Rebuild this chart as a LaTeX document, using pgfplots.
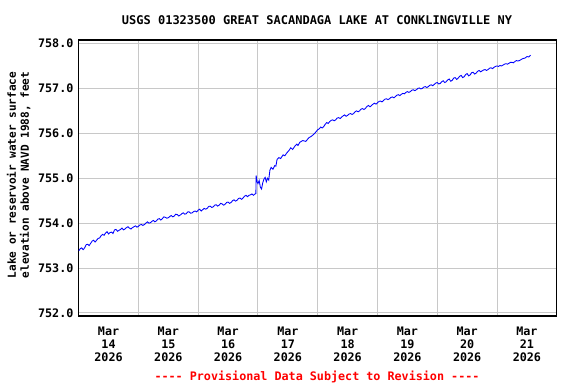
\documentclass[border=0pt]{standalone}
\usepackage{pgfplots}
\pgfplotsset{compat=1.18}
\usepackage{fontspec}
\setmonofont{DejaVu Sans Mono}
\definecolor{gridgray}{RGB}{200,200,200}
\begin{document}
\begin{tikzpicture}
\useasboundingbox (0,0) rectangle (432pt,288pt);
\begin{axis}[
  at={(59pt,51pt)}, anchor=south west,
  scale only axis, width=358.6pt, height=207pt,
  xmin=0, xmax=8, ymin=751.933, ymax=758.078,
  xtick={0.5,1.5,2.5,3.5,4.5,5.5,6.5,7.5},
  xticklabels={{Mar\\14\\2026},{Mar\\15\\2026},{Mar\\16\\2026},{Mar\\17\\2026},{Mar\\18\\2026},{Mar\\19\\2026},{Mar\\20\\2026},{Mar\\21\\2026}},
  minor xtick={1,2,3,4,5,6,7},
  ytick={752,753,754,755,756,757,758},
  xmajorgrids=false, xminorgrids=true, ymajorgrids=true,
  major grid style={draw=gridgray, line width=0.75pt},
  minor grid style={draw=gridgray, line width=0.75pt},
  major tick length=0pt, minor tick length=0pt,
  axis line style={black, line width=0.9pt},
  xticklabel style={align=center, inner sep=0pt, yshift=-8pt,
    font=\ttfamily\bfseries\fontsize{8.8}{9.75}\selectfont},
  yticklabel style={inner sep=0pt, xshift=-3.75pt,
    font=\ttfamily\bfseries\fontsize{8.8}{10}\selectfont,
    /pgf/number format/.cd, fixed, fixed zerofill, precision=1, 1000 sep={}, assume math mode=true},
]
\addplot[blue, line width=0.65pt] coordinates {
(0.00,753.38) (0.025,753.43) (0.05,753.45) (0.075,753.41) (0.10,753.45) (0.125,753.52) (0.15,753.53) (0.175,753.50) (0.20,753.55) (0.225,753.60) (0.25,753.62) (0.275,753.58) (0.30,753.62) (0.325,753.66) (0.35,753.67) (0.375,753.72) (0.40,753.75) (0.425,753.73) (0.45,753.78) (0.475,753.81) (0.50,753.76) (0.525,753.79) (0.55,753.80) (0.575,753.77) (0.60,753.85) (0.625,753.86) (0.65,753.82) (0.675,753.84) (0.70,753.86) (0.725,753.89) (0.75,753.85) (0.775,753.87) (0.80,753.90) (0.825,753.92) (0.85,753.89) (0.875,753.87) (0.90,753.90) (0.925,753.92) (0.95,753.94) (0.975,753.91) (1.00,753.93) (1.025,753.96) (1.05,753.97) (1.075,753.95) (1.10,753.97) (1.125,754.00) (1.15,754.03) (1.175,754.00) (1.20,754.01) (1.225,754.04) (1.25,754.06) (1.275,754.03) (1.30,754.05) (1.325,754.09) (1.35,754.10) (1.375,754.07) (1.40,754.10) (1.425,754.14) (1.45,754.13) (1.475,754.11) (1.50,754.12) (1.525,754.15) (1.55,754.17) (1.575,754.14) (1.60,754.16) (1.625,754.20) (1.65,754.19) (1.675,754.16) (1.70,754.18) (1.725,754.21) (1.75,754.23) (1.775,754.20) (1.80,754.21) (1.825,754.25) (1.85,754.25) (1.875,754.22) (1.90,754.23) (1.925,754.26) (1.95,754.27) (1.975,754.25) (2.00,754.29) (2.025,754.31) (2.05,754.27) (2.075,754.30) (2.10,754.33) (2.125,754.31) (2.15,754.33) (2.175,754.37) (2.20,754.38) (2.225,754.35) (2.25,754.36) (2.275,754.40) (2.30,754.41) (2.325,754.38) (2.35,754.40) (2.375,754.44) (2.40,754.43) (2.425,754.40) (2.45,754.42) (2.475,754.46) (2.50,754.47) (2.525,754.44) (2.55,754.46) (2.575,754.50) (2.60,754.52) (2.625,754.49) (2.65,754.51) (2.675,754.55) (2.70,754.56) (2.725,754.53) (2.75,754.56) (2.775,754.60) (2.80,754.62) (2.825,754.59) (2.85,754.62) (2.875,754.63) (2.90,754.65) (2.925,754.62) (2.95,754.65)
(2.965,754.66) (2.97,755.06) (2.985,754.92) (3.00,754.88) (3.02,754.95) (3.04,754.80)
(3.06,754.76) (3.08,754.90) (3.10,754.98) (3.12,755.02) (3.14,754.92) (3.16,755.00)
(3.18,754.96) (3.20,755.18) (3.22,755.24) (3.25,755.20) (3.28,755.28) (3.30,755.27)
(3.32,755.42) (3.35,755.46) (3.38,755.44) (3.42,755.52) (3.45,755.50) (3.48,755.56)
(3.52,755.62) (3.55,755.68) (3.58,755.64) (3.62,755.72) (3.65,755.76) (3.67,755.73)
(3.70,755.80) (3.75,755.84) (3.80,755.82) (3.85,755.90) (3.90,755.94) (3.95,756.00)
(4.00,756.08) (4.025,756.10) (4.05,756.14) (4.075,756.12) (4.10,756.15) (4.125,756.20) (4.15,756.24) (4.175,756.22) (4.20,756.26) (4.225,756.29) (4.25,756.30) (4.275,756.28) (4.30,756.30) (4.325,756.34) (4.35,756.35) (4.375,756.33) (4.40,756.36) (4.425,756.39) (4.45,756.41) (4.475,756.38) (4.50,756.40) (4.525,756.43) (4.55,756.44) (4.575,756.42) (4.60,756.44) (4.625,756.48) (4.65,756.50) (4.675,756.48) (4.70,756.50) (4.725,756.54) (4.75,756.55) (4.775,756.53) (4.80,756.56) (4.825,756.60) (4.85,756.62) (4.875,756.59) (4.90,756.62) (4.925,756.65) (4.95,756.67) (4.975,756.65) (5.00,756.68) (5.025,756.71) (5.05,756.72) (5.075,756.70) (5.10,756.73) (5.125,756.76) (5.15,756.77) (5.175,756.75) (5.20,756.77) (5.225,756.80) (5.25,756.81) (5.275,756.79) (5.30,756.82) (5.325,756.85) (5.35,756.86) (5.375,756.84) (5.40,756.87) (5.425,756.89) (5.45,756.88) (5.475,756.91) (5.50,756.93) (5.525,756.91) (5.55,756.93) (5.575,756.96) (5.60,756.97) (5.625,756.95) (5.65,756.97) (5.675,757.00) (5.70,757.01) (5.725,756.99) (5.75,757.00) (5.775,757.03) (5.80,757.04) (5.825,757.02) (5.85,757.04) (5.875,757.07) (5.90,757.08) (5.925,757.06) (5.95,757.09) (5.975,757.12) (6.00,757.13) (6.025,757.10) (6.05,757.11) (6.075,757.15) (6.10,757.17) (6.125,757.13) (6.15,757.15) (6.175,757.19) (6.20,757.21) (6.225,757.16) (6.25,757.18) (6.275,757.23) (6.30,757.24) (6.325,757.20) (6.35,757.23) (6.375,757.27) (6.40,757.29) (6.425,757.24) (6.45,757.26) (6.475,757.31) (6.50,757.33) (6.525,757.28) (6.55,757.30) (6.575,757.35) (6.60,757.36) (6.625,757.32) (6.65,757.34) (6.675,757.38) (6.70,757.40) (6.725,757.37) (6.75,757.39) (6.775,757.41) (6.80,757.42) (6.825,757.40) (6.85,757.42) (6.875,757.45) (6.90,757.46) (6.925,757.44) (6.95,757.47) (6.975,757.49) (7.00,757.50) (7.025,757.49) (7.05,757.51) (7.075,757.50) (7.10,757.52) (7.125,757.54) (7.15,757.55) (7.175,757.54) (7.20,757.56) (7.225,757.58) (7.25,757.58) (7.275,757.57) (7.30,757.60) (7.325,757.62) (7.35,757.61) (7.375,757.62) (7.40,757.64) (7.425,757.66) (7.45,757.67) (7.475,757.68) (7.50,757.71) (7.53,757.70) (7.56,757.74)
};
\end{axis}
\node[font=\ttfamily\bfseries\fontsize{9}{10}\selectfont] at (237.75pt,273pt)
  {USGS 01323500 GREAT SACANDAGA LAKE AT CONKLINGVILLE NY};
\node[rotate=90, align=center, font=\ttfamily\bfseries\fontsize{8.3}{9.75}\selectfont]
  at (13.9pt,156.75pt) {Lake or reservoir water surface\\elevation above NAVD 1988, feet};
\node[text=red, font=\ttfamily\bfseries\fontsize{8.8}{10}\selectfont] at (237.75pt,5.6pt)
  {---- Provisional Data Subject to Revision ----};
\end{tikzpicture}
\end{document}
